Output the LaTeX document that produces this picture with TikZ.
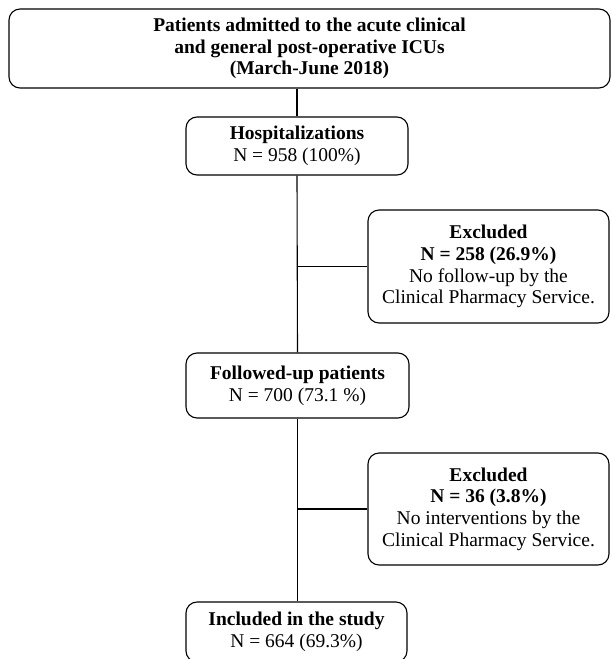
\documentclass[tikz,border=0pt]{standalone}
\usepackage{fontspec}
\setmainfont{Liberation Serif}
\begin{document}
\begin{tikzpicture}[x=1pt,y=-1pt,
  box/.style={draw, line width=1.1pt, rounded corners=11pt, align=center, inner sep=0pt,
    font=\fontsize{19.5}{21.7}\selectfont},
  link/.style={line width=1.1pt}]
\useasboundingbox (0,0) rectangle (611,659);
\clip (0,0) rectangle (611,659);
\node[box, minimum width=601pt, minimum height=79pt] (top) at (309.5,48.5)
  {\textbf{Patients admitted to the acute clinical}\\\textbf{and general post-operative ICUs}\\\textbf{(March-June 2018)}};
\node[box, minimum width=222pt, minimum height=58pt] (hosp) at (297,146)
  {\textbf{Hospitalizations}\\N = 958 (100\%)};
\node[box, minimum width=241pt, minimum height=113pt] (ex1) at (488.5,266.5)
  {\textbf{Excluded}\\\textbf{N = 258 (26.9\%)}\\No follow-up by the\\Clinical Pharmacy Service.};
\node[box, minimum width=223pt, minimum height=65pt] (fol) at (297.5,385.5)
  {\textbf{Followed-up patients}\\N = 700 (73.1 \%)};
\node[box, minimum width=241pt, minimum height=112pt] (ex2) at (488.5,509)
  {\textbf{Excluded}\\\textbf{N = 36 (3.8\%)}\\No interventions by the\\Clinical Pharmacy Service.};
\node[box, minimum width=221pt, minimum height=60pt] (inc) at (296.5,632)
  {\textbf{Included in the study}\\N = 664 (69.3\%)};
\draw[link] (top.south -| hosp.north) -- (hosp.north);
\draw[link] (hosp.south) -- (fol.north);
\draw[link] (fol.south) -- (fol.south |- inc.north);
\draw[link] (ex1.west -| hosp.south) -- (ex1.west);
\draw[link] (ex2.west -| fol.south) -- (ex2.west);
\end{tikzpicture}
\end{document}
